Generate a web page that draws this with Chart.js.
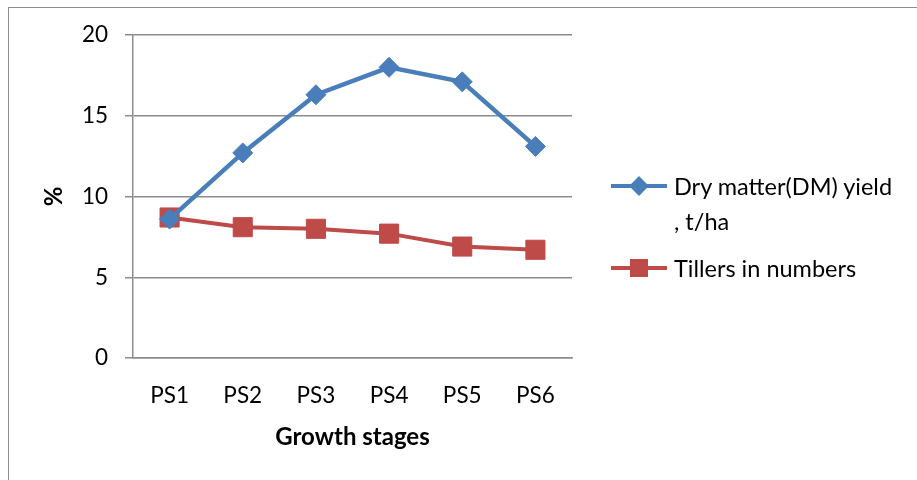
<!DOCTYPE html>
<html lang="en">
<head>
    <meta charset="UTF-8">
    <title>Growth stages</title>
    <script src="https://cdn.jsdelivr.net/npm/chart.js"></script>
    <style>
        body { margin: 0; background: #fff; overflow: hidden; }
        .quadro { position: relative; width: 917px; height: 480px; overflow: hidden; }
        .borda { position: absolute; left: 8px; top: 7px; width: 1200px; height: 700px; border: 1.5px solid #8c8c8c; }
        #grafico { position: absolute; left: 0; top: 0; }
        .legenda { position: absolute; left: 611px; top: 0; font-family: Lato, sans-serif; font-size: 23.5px; color: #000; }
        .item { position: absolute; left: 0; width: 300px; }
        .item .linha { position: absolute; left: 0; width: 56px; height: 4px; }
        .item .marca { position: absolute; }
        .item .texto { position: absolute; left: 63px; line-height: 35px; white-space: nowrap; }
    </style>
</head>
<body>
    <div class="quadro">
        <div class="borda"></div>
        <canvas id="grafico" width="917" height="480"></canvas>
        <div class="legenda" id="legenda"></div>
    </div>

    <script>
        // valores
        const stages = ['PS1', 'PS2', 'PS3', 'PS4', 'PS5', 'PS6'];
        const dryMatter = [8.6, 12.7, 16.3, 18.0, 17.1, 13.1];
        const tillers = [8.7, 8.1, 8.0, 7.7, 6.9, 6.7];
        const yTicks = [0, 5, 10, 15, 20];

        const azul = '#4A7EBB';
        const vermelho = '#BE4B48';
        const cinza = '#8c8c8c';

        const dados = {
            labels: stages,
            datasets: [{
                label: 'Dry matter(DM) yield\n, t/ha',
                data: dryMatter,
                borderColor: azul,
                backgroundColor: azul,
                borderWidth: 4.5,
                pointStyle: 'rectRot',
                pointRadius: 10,
                pointBorderWidth: 1,
                tension: 0
            }, {
                label: 'Tillers in numbers',
                data: tillers,
                borderColor: vermelho,
                backgroundColor: vermelho,
                borderWidth: 4,
                pointStyle: 'rect',
                pointRadius: 13.5,
                pointBorderWidth: 1,
                tension: 0
            }]
        };

        const fonte = { family: 'Lato', size: 22.5 };
        const fonteTitulo = { family: 'Lato', size: 24, weight: 'bold' };

        new Chart(document.getElementById('grafico'), {
            type: 'line',
            data: dados,
            options: {
                responsive: false,
                devicePixelRatio: 1,
                animation: false,
                layout: { padding: { left: 40, top: 35, right: 345, bottom: 28 } },
                plugins: { legend: { display: false }, tooltip: { enabled: false } },
                scales: {
                    x: {
                        offset: true,
                        grid: { display: false, drawTicks: false },
                        border: { display: true, color: cinza, width: 1.5 },
                        ticks: { color: '#000', font: fonte, padding: 24 },
                        title: { display: true, text: 'Growth stages', color: '#000', font: fonteTitulo, padding: 0 },
                        afterFit: function (scale) { scale.height = 94; }
                    },
                    y: {
                        min: 0,
                        max: 20,
                        afterBuildTicks: function (scale) { scale.ticks = yTicks.map(v => ({ value: v })); },
                        grid: { color: cinza, lineWidth: 1.5, tickLength: 8 },
                        border: { color: cinza, width: 1.5 },
                        ticks: { color: '#000', font: fonte, padding: 17 },
                        title: { display: true, text: '%', color: '#000', font: fonteTitulo, padding: 0 },
                        afterFit: function (scale) { scale.width = 93; }
                    }
                }
            }
        });

        // legenda em html, ao lado do grafico
        const legenda = document.getElementById('legenda');
        const posicoes = [186, 268];
        dados.datasets.forEach(function (ds, i) {
            const y = posicoes[i];
            const item = document.createElement('div');
            item.className = 'item';
            item.style.top = y + 'px';
            let marca;
            if (ds.pointStyle === 'rectRot') {
                marca = '<div class="marca" style="left:21px;top:-7px;width:14px;height:14px;background:' + ds.borderColor + ';transform:rotate(45deg)"></div>';
            } else {
                marca = '<div class="marca" style="left:19px;top:-9px;width:18px;height:18px;background:' + ds.borderColor + '"></div>';
            }
            const linhas = ds.label.split('\n');
            item.innerHTML = '<div class="linha" style="top:-2px;background:' + ds.borderColor + '"></div>' + marca +
                '<div class="texto" style="top:-17.5px">' + linhas.join('<br>') + '</div>';
            legenda.appendChild(item);
        });
    </script>
</body>
</html>
